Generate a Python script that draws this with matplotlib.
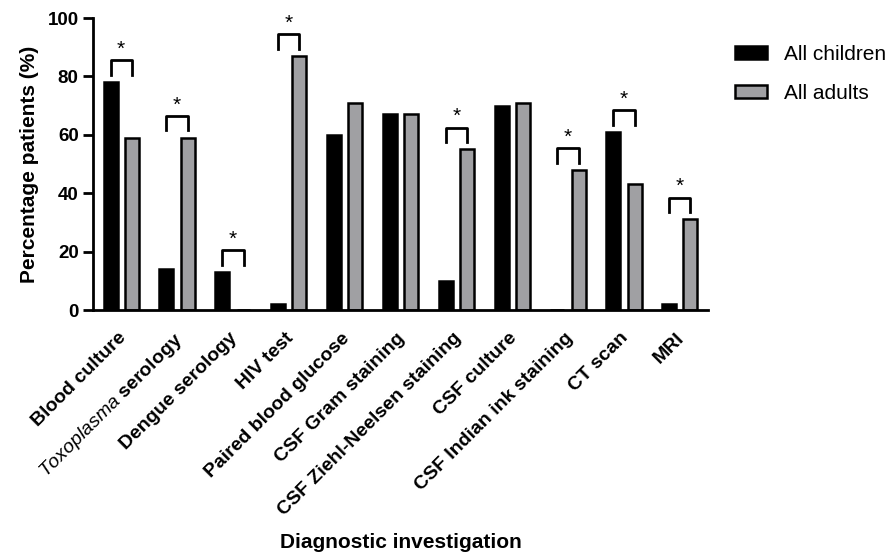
import matplotlib
matplotlib.use('Agg')
import matplotlib.pyplot as plt
import matplotlib.transforms as mtransforms
import numpy as np

plt.rcParams['font.family'] = 'Liberation Sans'
plt.rcParams['mathtext.fontset'] = 'custom'
plt.rcParams['mathtext.it'] = 'Liberation Sans:italic'
plt.rcParams['mathtext.bf'] = 'Liberation Sans:bold'
plt.rcParams['mathtext.rm'] = 'Liberation Sans'

categories = ['Blood culture', r'$\it{Toxoplasma}\ \bf{serology}$', 'Dengue serology', 'HIV test',
              'Paired blood glucose', 'CSF Gram staining', 'CSF Ziehl-Neelsen staining',
              'CSF culture', 'CSF Indian ink staining', 'CT scan', 'MRI']
children = [78, 14, 13, 2, 60, 67, 10, 70, 0, 61, 2]
adults = [59, 59, 0, 87, 71, 67, 55, 71, 48, 43, 31]
significant = [True, True, True, True, False, False, True, False, True, True, True]

gray = '#a0a0a3'
x = np.arange(len(categories))
off = 0.19
w = 0.25

fig = plt.figure(figsize=(8.88, 5.53), dpi=100)
ax = fig.add_axes([0.105, 0.4394, 0.692, 0.528])

ax.bar(x - off, children, w, color='black', edgecolor='black', linewidth=1.8, label='All children')
ax.bar(x + off, adults, w, color=gray, edgecolor='black', linewidth=1.8, label='All adults')

# significance brackets
for i in range(len(categories)):
    if not significant[i]:
        continue
    top = max(children[i], adults[i]) + 7.5
    ax.plot([x[i] - off, x[i] - off, x[i] + off, x[i] + off],
            [top - 5, top, top, top - 5], color='black', lw=2, clip_on=False)
    ax.text(x[i], top + 0.5, '*', ha='center', va='bottom', fontsize=15)

ax.set_xlim(-0.5, len(categories) - 0.5)
ax.set_ylim(0, 100)
ax.set_yticks([0, 20, 40, 60, 80, 100])
ax.spines['top'].set_visible(False)
ax.spines['right'].set_visible(False)
ax.spines['left'].set_linewidth(2)
ax.spines['bottom'].set_linewidth(2)
ax.tick_params(axis='y', length=7, width=2, labelsize=13.5)
ax.tick_params(axis='x', length=0, labelsize=14, pad=14)
for lab in ax.get_yticklabels():
    lab.set_fontweight('bold')

ax.set_xticks(x)
ax.set_xticklabels(categories, rotation=45, ha='right', rotation_mode='anchor', fontweight='bold')
shift = mtransforms.ScaledTranslation(-0.04, 0, fig.dpi_scale_trans)
for lab in ax.get_xticklabels():
    lab.set_transform(lab.get_transform() + shift)

ax.set_ylabel('Percentage patients (%)', fontsize=15, fontweight='bold', labelpad=6)
ax.set_xlabel('Diagnostic investigation', fontsize=15, fontweight='bold', labelpad=10)

ax.legend(loc='upper left', bbox_to_anchor=(1.045, 0.908), frameon=False, fontsize=15,
          handlelength=1.5, handleheight=0.55, handletextpad=0.85, labelspacing=0.95,
          borderpad=0, borderaxespad=0)

fig.savefig('out.png', dpi=100)
